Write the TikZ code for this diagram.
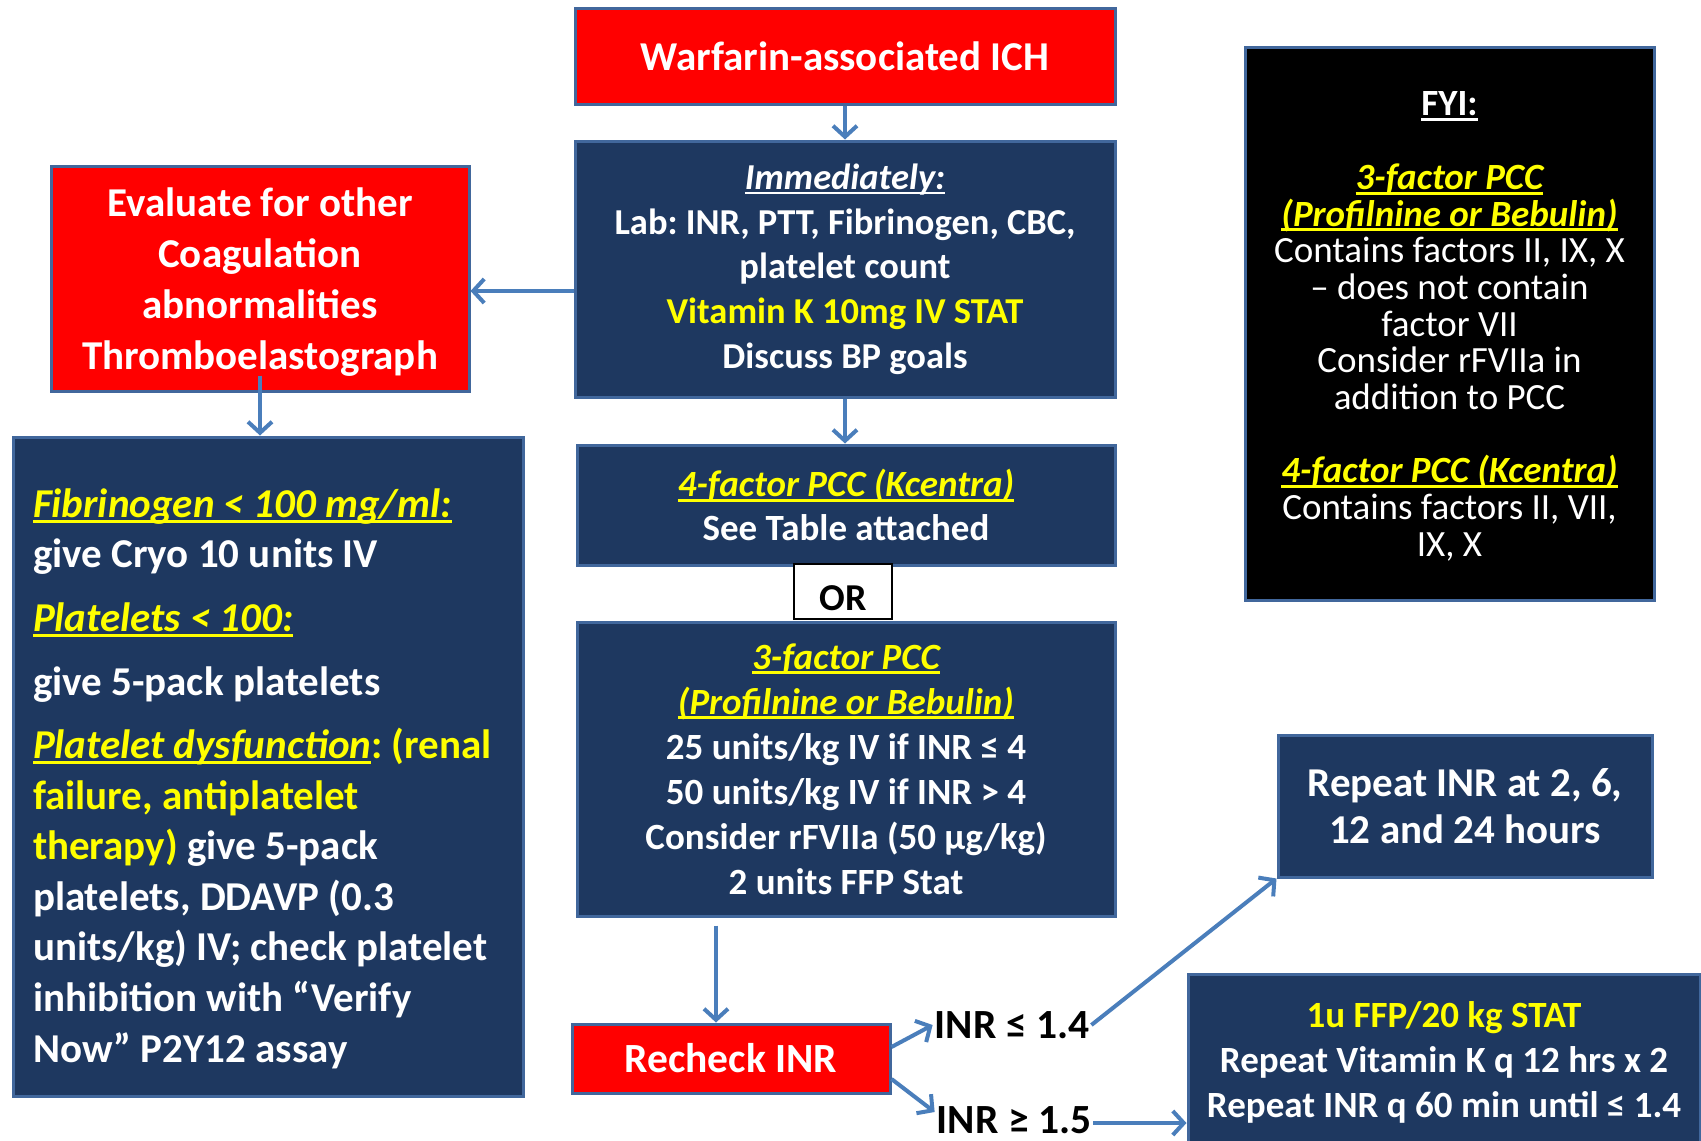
\documentclass[tikz,border=0pt]{standalone}
\usepackage{fontspec}
\setmainfont{Carlito}
\usetikzlibrary{arrows.meta}
\frenchspacing

\definecolor{navy}{RGB}{30,56,96}
\definecolor{frame}{RGB}{65,103,156}
\definecolor{wire}{RGB}{74,126,187}
\definecolor{alert}{RGB}{255,0,0}
\definecolor{hilite}{RGB}{255,255,0}

% underline drawn in the current text colour
\newcommand{\ulin}[1]{\setbox0\hbox{#1}\rlap{\rule[-0.14em]{\wd0}{0.08em}}\box0}
\newcommand{\hl}[1]{\textcolor{hilite}{\textit{\ulin{#1}}}}

\tikzset{
  box/.style={draw=frame, line width=3pt, fill=navy, text=white, align=center,
              inner sep=0pt, font=\bfseries\fontsize{37}{45}\selectfont},
  redbox/.style={box, fill=alert, font=\bfseries\fontsize{41}{51}\selectfont},
  big/.style={font=\bfseries\fontsize{41}{51}\selectfont},
  cond/.style={text=black, inner sep=2pt, font=\bfseries\fontsize{41.5}{48}\selectfont},
  arr/.style={draw=wire, line width=4pt, -{Straight Barb[length=11pt,width=24pt]}},
}

\begin{document}
\begin{tikzpicture}[x=1pt, y=-1pt]
\useasboundingbox (0,0) rectangle (1701,1141);
\fill[white] (0,0) rectangle (1701,1141);

% main column
\node[redbox, minimum width=540, minimum height=96] (top) at (845,56)
  {Warfarin-associated ICH};
\node[box, minimum width=540, minimum height=256,
      font=\bfseries\fontsize{36.5}{44.7}\selectfont] (imm) at (845,269)
  {\textit{\ulin{Immediately:}}\\
   Lab: INR, PTT, Fibrinogen, CBC,\\
   platelet count\\
   \textcolor{hilite}{Vitamin K 10mg IV STAT}\\
   Discuss BP goals};
\node[box, minimum width=538, minimum height=120,
      font=\bfseries\fontsize{37}{44}\selectfont] (f4) at (846,505)
  {\hl{4-factor PCC (Kcentra)}\\
   See Table attached};
\node[box, minimum width=538, minimum height=294] (f3) at (846,769)
  {\hl{3-factor PCC}\\
   \hl{(Profilnine or Bebulin)}\\
   25 units/kg IV if INR ≤ 4\\
   50 units/kg IV if INR > 4\\
   Consider rFVIIa (50 µg/kg)\\
   2 units FFP Stat};
\node[draw=black, line width=2pt, fill=white, text=black, inner sep=0pt,
      minimum width=98, minimum height=55, text height=37pt, text depth=0pt,
      font=\bfseries\fontsize{38}{44}\selectfont] (or) at (843,591.5) {OR};
\node[redbox, minimum width=318, minimum height=69,
      font=\bfseries\fontsize{41.5}{51}\selectfont] (recheck) at (731,1058.5)
  {Recheck INR};

% left column
\node[redbox, minimum width=418, minimum height=225] (ev) at (260,278.5) {};
\node[text=white, align=center, inner sep=0pt, big] (evtext)
  at ([yshift=-4pt]ev.center)
  {Evaluate for other\\
   Coagulation\\
   abnormalities\\
   Thromboelastograph};
\node[box, minimum width=510, minimum height=659] (left) at (268,766.5) {};
\node[text=white, inner sep=0pt, text width=470, align=flush left,
      font=\bfseries\fontsize{41}{50.6}\selectfont]
  (lefttext) at ([yshift=-12pt]left.center)
  {\hl{Fibrinogen < 100 mg/ml:}\\
   give Cryo 10 units IV\\[13pt]
   \hl{Platelets < 100:}\\[14pt]
   give 5-pack platelets\\[12pt]
   \textcolor{hilite}{\textit{\ulin{Platelet dysfunction}}: (renal}\\
   \textcolor{hilite}{failure, antiplatelet}\\
   \textcolor{hilite}{therapy)} give 5-pack\\
   platelets, DDAVP (0.3\\
   units/kg) IV; check platelet\\
   inhibition with “Verify\\
   Now” P2Y12 assay};

% right column
\node[box, fill=black, minimum width=409, minimum height=553] (fyi) at (1449.5,323.5) {};
\node[text=white, align=center, inner sep=0pt,
      font=\fontsize{37}{36.7}\selectfont] (fyitext) at ([yshift=-3pt]fyi.center)
  {\textbf{\ulin{FYI:}}\\[36.7pt]
   \textbf{\hl{3-factor PCC}}\\
   \textbf{\hl{(Profilnine or Bebulin)}}\\
   Contains factors II, IX, X\\
   – does not contain\\
   factor VII\\
   Consider rFVIIa in\\
   addition to PCC\\[36.7pt]
   \textbf{\hl{4-factor PCC (Kcentra)}}\\
   Contains factors II, VII,\\
   IX, X};
\node[box, minimum width=374, minimum height=142,
      font=\bfseries\fontsize{41}{47}\selectfont] (rep) at (1465,806)
  {Repeat INR at 2, 6,\\
   12 and 24 hours};
\node[box, minimum width=512, minimum height=170] (ffp) at (1444,1059) {};
\node[text=white, align=center, inner sep=0pt,
      font=\bfseries\fontsize{37}{45}\selectfont] (ffptext) at ([yshift=-3pt]ffp.center)
  {\textcolor{hilite}{1u FFP/20 kg STAT}\\
   Repeat Vitamin K q 12 hrs x 2\\
   Repeat INR q 60 min until ≤ 1.4};

% outcome labels
\node[cond] (le) at (1012,1025) {INR ≤ 1.4};
\node[cond] (ge) at (1014,1120) {INR ≥ 1.5};

% connectors
\draw[arr] (top) -- (imm);
\draw[arr] ([yshift=-22pt]imm.west) -- ([yshift=-12.5pt]ev.east);
\draw[arr] ([yshift=17pt]ev.south) -- (ev.south |- left.north);
\draw[arr] (imm.south) -- (imm.south |- f4.north);
\coordinate (drop) at ([xshift=-130pt,yshift=-8pt]f3.south);
\draw[arr] (drop) -- (drop |- recheck.north);
\draw[arr] ([yshift=11.5pt]recheck.east) -- (le.west);
\draw[arr] ([yshift=-20.5pt]recheck.east) -- ([yshift=8pt]ge.west);
\draw[arr] (le.east) -- (rep.south west);
\draw[arr] ([yshift=-3pt]ge.east) -- ([yshift=-3pt]ge.east -| ffp.west);
\end{tikzpicture}
\end{document}
